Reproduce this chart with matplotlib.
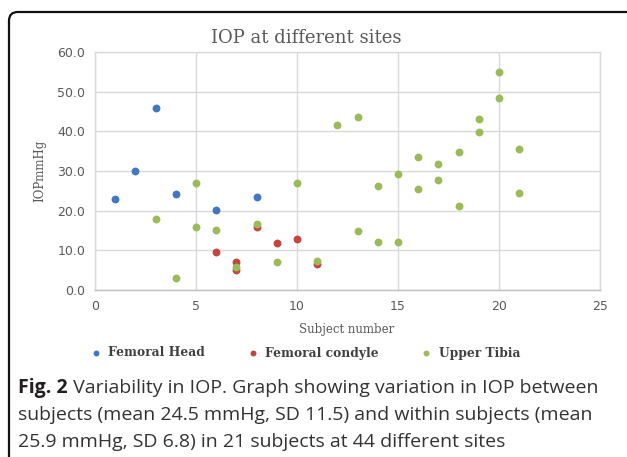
import matplotlib
matplotlib.use("Agg")
import matplotlib.pyplot as plt
from matplotlib.patches import FancyBboxPatch

# ---- data ----
head_x = [1, 2, 3, 4, 6, 8]
head_y = [23.0, 30.0, 46.0, 24.2, 20.2, 23.5]

condyle_x = [6, 7, 7, 8, 9, 10, 11]
condyle_y = [9.6, 7.0, 5.0, 15.9, 11.8, 12.8, 6.5]

tibia_x = [3, 4, 5, 5, 6, 7, 8, 9, 10, 11, 12, 13, 13, 14, 14, 15, 15,
           16, 16, 17, 17, 18, 18, 19, 19, 20, 20, 21, 21]
tibia_y = [17.8, 3.0, 26.9, 15.9, 15.1, 5.8, 16.6, 7.0, 26.9, 7.2, 41.5,
           43.7, 15.0, 26.3, 12.1, 29.3, 12.1, 33.5, 25.4, 31.7, 27.7,
           34.7, 21.2, 43.2, 39.8, 55.0, 48.3, 35.6, 24.4]

series_names = ["Femoral Head", "Femoral condyle", "Upper Tibia"]
colors = ["#4178c0", "#c4443f", "#9bbb59"]

title = "IOP at different sites"
xlabel = "Subject number"
ylabel = "IOPmmHg"
caption_bold = "Fig. 2"
caption_lines = [
    " Variability in IOP. Graph showing variation in IOP between",
    "subjects (mean 24.5 mmHg, SD 11.5) and within subjects (mean",
    "25.9 mmHg, SD 6.8) in 21 subjects at 44 different sites",
]

W, H = 627, 457
fig = plt.figure(figsize=(W / 100, H / 100), dpi=100)
fig.patch.set_facecolor("white")

# frame with rounded top-left corner
frame = FancyBboxPatch((9 / W, -0.2), 1.2, (H - 12) / H + 0.2,
                       boxstyle="round,pad=0,rounding_size=0.014",
                       transform=fig.transFigure, fill=False,
                       edgecolor="#111111", linewidth=1.6,
                       mutation_aspect=W / H)
fig.patches.append(frame)

ax = fig.add_axes([95 / W, (H - 290) / H, (600 - 95) / W, (290 - 52) / H])
ax.set_xlim(0, 25)
ax.set_ylim(0, 60)
ax.set_xticks(range(0, 26, 5))
ax.set_yticks(range(0, 61, 10))
ax.set_yticklabels([f"{v:.1f}" for v in range(0, 61, 10)])
ax.grid(True, color="#d9d9d9", linewidth=1.0)
ax.set_axisbelow(True)
for s in ax.spines.values():
    s.set_color("#d9d9d9")
    s.set_linewidth(1.0)
ax.spines["bottom"].set_color("#bfbfbf")
ax.tick_params(length=0, labelsize=9, labelcolor="#595959", pad=7)
for lab in ax.get_xticklabels() + ax.get_yticklabels():
    lab.set_family("DejaVu Sans")

ax.scatter(head_x, head_y, s=32, color=colors[0], label=series_names[0], zorder=3, linewidths=0)
ax.scatter(condyle_x, condyle_y, s=32, color=colors[1], label=series_names[1], zorder=3, linewidths=0)
ax.scatter(tibia_x, tibia_y, s=32, color=colors[2], label=series_names[2], zorder=3, linewidths=0)

fig.text(306 / W, 1 - 38 / H, title, ha="center", va="center",
         fontsize=13, family="DejaVu Serif", color="#595959")
fig.text(40 / W, 1 - 171 / H, ylabel, ha="center", va="center", rotation=90,
         fontsize=8.5, family="DejaVu Serif", color="#595959")
fig.text(347 / W, 1 - 330 / H, xlabel, ha="center", va="center",
         fontsize=8.5, family="DejaVu Serif", color="#595959")

leg = fig.legend(loc="center", bbox_to_anchor=(302 / W, 1 - 353 / H), ncol=3,
                 frameon=False, handletextpad=0.0, columnspacing=2.9,
                 markerscale=0.75, borderaxespad=0,
                 prop={"family": "DejaVu Serif", "weight": "bold", "size": 8.8})
for t in leg.get_texts():
    t.set_color("#404040")

cap_font = "Open Sans"
cap_size = 14
cap_color = "#333333"
t1 = fig.text(18 / W, 1 - 393 / H, caption_bold, ha="left", va="baseline",
              fontsize=cap_size, family=cap_font, weight="bold", color="#231f20")
fig.canvas.draw()
r = fig.canvas.get_renderer()
bb = t1.get_window_extent(r)
fig.text(bb.x1 / W, 1 - 393 / H, caption_lines[0], ha="left", va="baseline",
         fontsize=cap_size, family=cap_font, color=cap_color)
fig.text(18 / W, 1 - 420 / H, caption_lines[1], ha="left", va="baseline",
         fontsize=cap_size, family=cap_font, color=cap_color)
fig.text(18 / W, 1 - 447 / H, caption_lines[2], ha="left", va="baseline",
         fontsize=cap_size, family=cap_font, color=cap_color)

fig.savefig("out.png", dpi=100)
